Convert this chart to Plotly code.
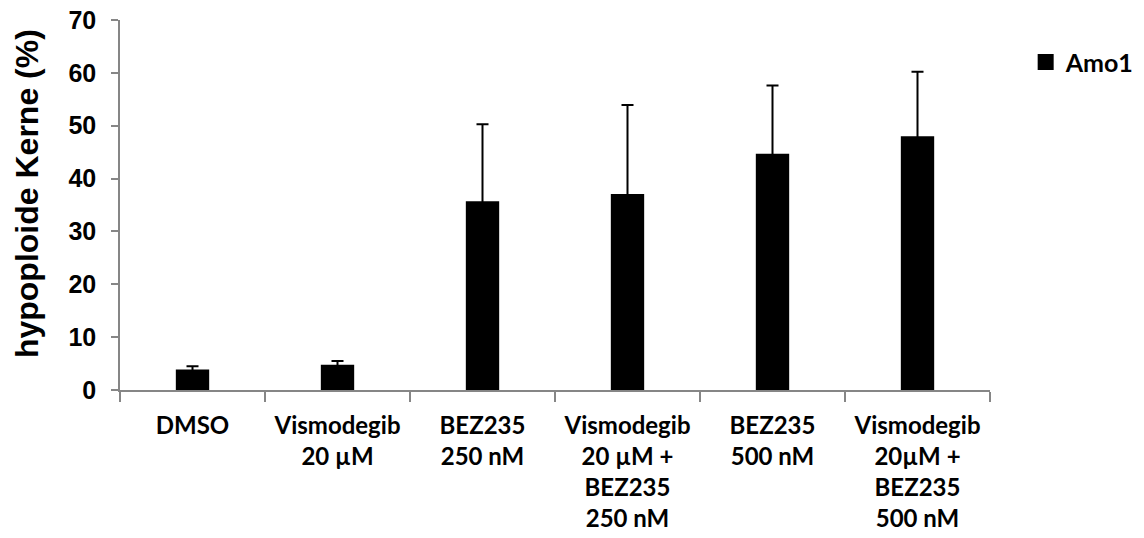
import plotly.graph_objects as go

categories = [
    "DMSO",
    "Vismodegib<br>20 µM",
    "BEZ235<br>250 nM",
    "Vismodegib<br>20 µM +<br>BEZ235<br>250 nM",
    "BEZ235<br>500 nM",
    "Vismodegib<br>20µM +<br>BEZ235<br>500 nM",
]
amo1_values = [3.9, 4.8, 35.7, 37.1, 44.7, 48.0]
amo1_errors = [0.6, 0.7, 14.6, 16.8, 12.9, 12.2]
y_ticks = [0, 10, 20, 30, 40, 50, 60, 70]

AXIS_GRAY = "#868686"
label_font = dict(family="Lato", size=24, color="black", weight="bold")
arial_bold = dict(family="Liberation Sans", color="black", weight="bold")

fig = go.Figure()
# Bars; the lower half of each error bar stays hidden inside the black bar
fig.add_trace(go.Bar(
    x=categories,
    y=amo1_values,
    name="Amo1",
    showlegend=False,
    marker=dict(color="black", line=dict(width=0)),
    error_y=dict(
        type="data",
        array=amo1_errors,
        color="black",
        thickness=2,
        width=6,
    ),
))
# Legend entry with a larger square swatch
fig.add_trace(go.Scatter(
    x=[None], y=[None],
    mode="markers",
    name="Amo1",
    marker=dict(symbol="square", size=18, color="black"),
    showlegend=True,
))

fig.update_layout(
    width=1144,
    height=538,
    margin=dict(l=120, r=154, t=20, b=148, autoexpand=False),
    plot_bgcolor="white",
    paper_bgcolor="white",
    bargap=0.77,
    showlegend=True,
    legend=dict(
        x=1.041, y=0.886, xanchor="left", yanchor="middle",
        font=dict(family="Lato", size=25, color="black", weight="bold"),
        bgcolor="rgba(0,0,0,0)",
        itemsizing="trace", itemwidth=30,
    ),
    annotations=[dict(
        text="hypoploide Kerne (%)",
        textangle=-90,
        xref="paper", yref="paper",
        x=-0.107, y=0.532,
        xanchor="center", yanchor="middle",
        showarrow=False,
        font=dict(size=32, **arial_bold),
    )],
)

fig.update_xaxes(
    type="category",
    automargin=False,
    showline=True, linecolor=AXIS_GRAY, linewidth=1.5,
    ticks="outside", tickson="boundaries", ticklen=10, tickcolor=AXIS_GRAY, tickwidth=1.5,
    tickfont=label_font,
    ticklabelstandoff=13,
    showgrid=False, zeroline=False,
)
fig.update_yaxes(
    range=[0, 70],
    tickvals=y_ticks,
    automargin=False,
    showline=True, linecolor=AXIS_GRAY, linewidth=1.5,
    ticks="outside", ticklen=7, tickcolor=AXIS_GRAY, tickwidth=1.5,
    tickfont=dict(size=25, **arial_bold),
    ticklabelstandoff=10,
    showgrid=False, zeroline=False,
)

fig.write_html("out.html")
